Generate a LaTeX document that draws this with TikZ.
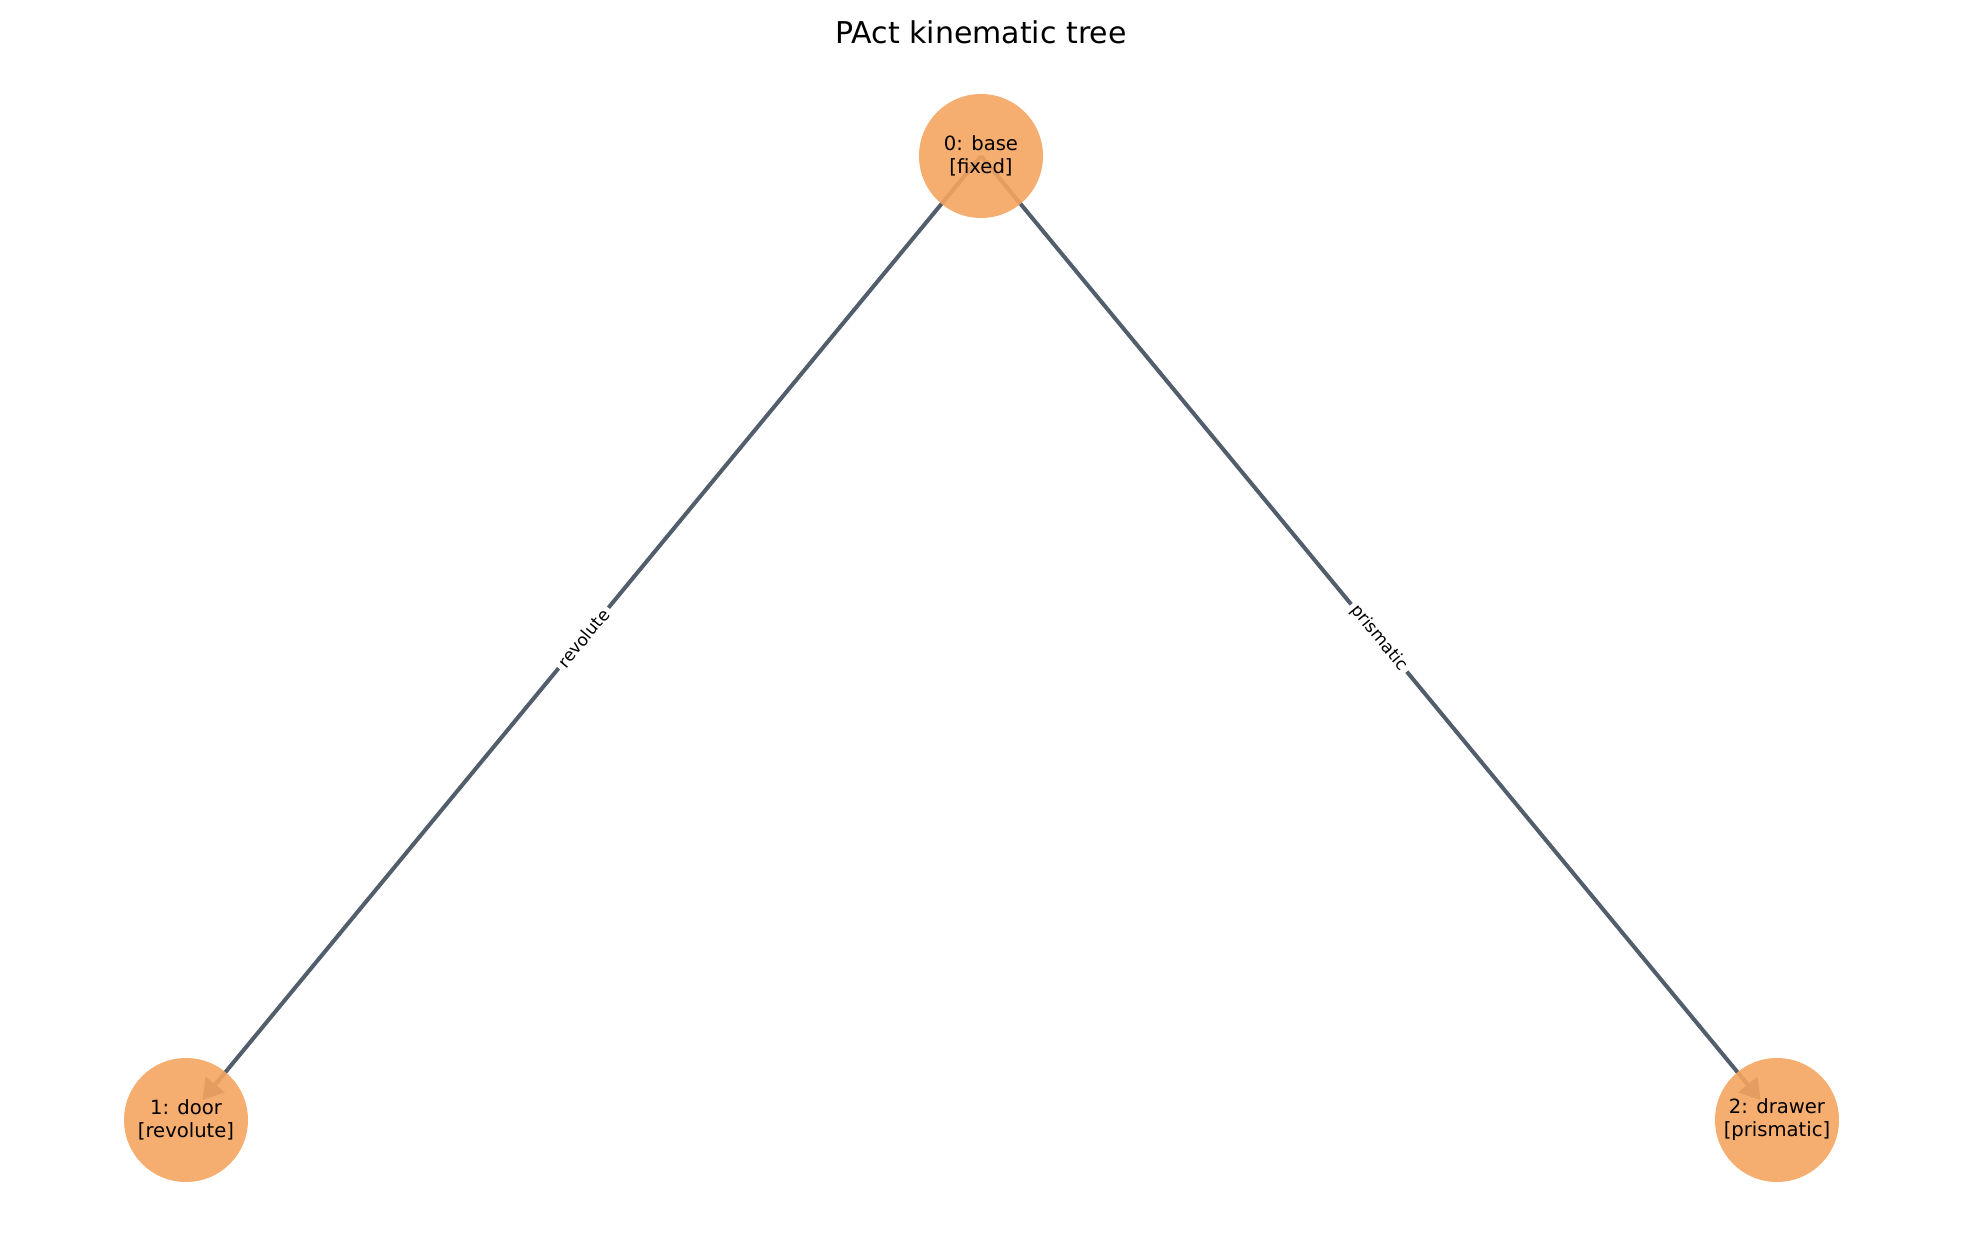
\documentclass[tikz,border=0pt]{standalone}
\usepackage{fontspec}
\setmainfont{DejaVu Sans}
\usetikzlibrary{arrows.meta,backgrounds}
\definecolor{linkfill}{HTML}{F4A460}
\definecolor{jointedge}{HTML}{525E6B}
\begin{document}
\begin{tikzpicture}[x=0.5pt,y=0.5pt,
    link/.style ={circle, fill=linkfill, fill opacity=0.9, text opacity=1, inner sep=0pt, minimum size=62pt, align=center, font=\fontsize{9.8}{11.5}\selectfont},
    joint/.style ={draw=jointedge, line width=2pt, -{Triangle[length=10pt,width=12pt]}, shorten >=13pt},
    jointlabel/.style ={sloped, fill=white, inner sep=2pt, font=\fontsize{8.5}{10}\selectfont}]
   \useasboundingbox (0,0) rectangle (1961,1239);
   \node[font=\fontsize{15}{18}\selectfont] (title) at (981,1207) {PAct kinematic tree};
   \node[link] (base)   at (981,1083) {0: base\\{[fixed]}};
   \node[link] (door)   at (186,119)  {1: door\\{[revolute]}};
   \node[link] (drawer) at (1777,119) {2: drawer\\{[prismatic]}};
   % joints go under the links
   \begin{pgfonlayer}{background}
   \draw[joint] (base.center) -- node[jointlabel] {revolute} (door.center);
   \draw[joint] (base.center) -- node[jointlabel] {prismatic} (drawer.center);
   \end{pgfonlayer}
 \end{tikzpicture}
\end{document}
